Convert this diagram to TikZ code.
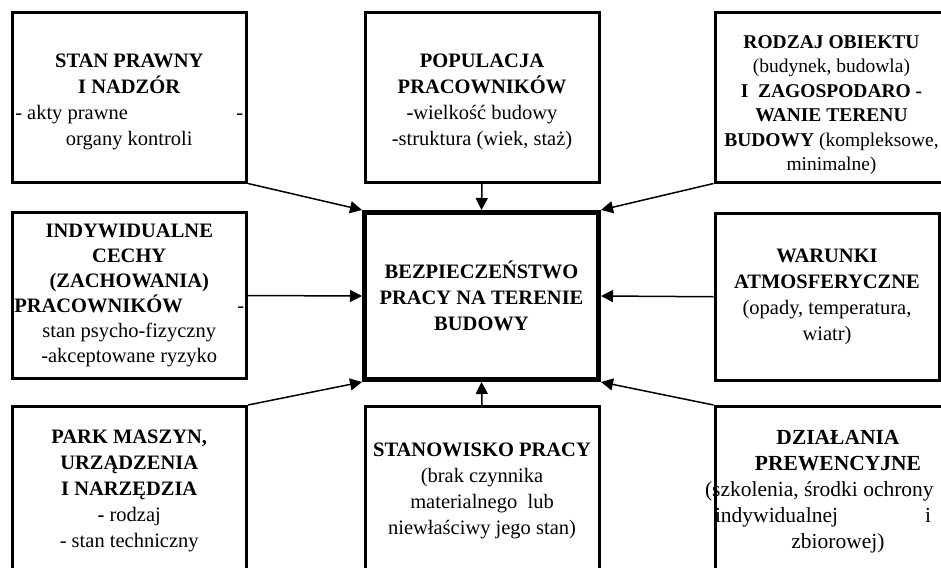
\documentclass[tikz,border=0pt]{standalone}
\usepackage{fontspec}
\setmainfont{Liberation Serif}
\usetikzlibrary{arrows.meta}

\begin{document}
\begin{tikzpicture}[x=1pt,y=-1pt,
  czynnik/.style={draw,line width=3pt,inner sep=0pt,align=center,
    minimum width=234pt,minimum height=169.5pt,
    font=\fontsize{20.5}{26}\selectfont},
  glowny/.style={czynnik,line width=5pt,minimum height=167pt},
  wplyw/.style={line width=1.5pt,-{Triangle[length=12pt,width=12pt]}}]
 \useasboundingbox (0,0) rectangle (941,567);
 \clip (0,0) rectangle (941,567);
 % srodek
 \node[glowny] (bhp) at (481.5,296) {\textbf{BEZPIECZEŃSTWO}\\\textbf{PRACY NA TERENIE}\\\textbf{BUDOWY}};
 % gorny rzad
 \node[czynnik,minimum width=234.5pt] (prawo) at (129.25,97.25)
   {\rule{0pt}{22pt}\textbf{STAN PRAWNY}\\\textbf{I NADZÓR}\\\makebox[228pt]{- akty prawne\hfill -}\\organy kontroli};
 \node[czynnik] (populacja) at (482,97.25)
   {\rule{0pt}{23.6pt}\textbf{POPULACJA}\\\textbf{PRACOWNIKÓW}\\\textbf{-}wielkość budowy\\-struktura (wiek, staż)};
 \node[czynnik,minimum width=233pt,font=\fontsize{19.5}{24.5}\selectfont] (obiekt) at (831.5,97.25)
   {\rule{0pt}{29pt}\textbf{RODZAJ OBIEKTU}\\(budynek, budowla)\\\textbf{I\ \ ZAGOSPODARO -}\\\textbf{WANIE TERENU}\\\textbf{BUDOWY} (kompleksowe,\\minimalne)};
 % srodkowy rzad
 \node[czynnik,minimum width=234.5pt,minimum height=166.5pt,font=\fontsize{20.5}{25}\selectfont] (cechy) at (129.25,295.5)
   {\textbf{INDYWIDUALNE}\\\textbf{CECHY}\\\textbf{(ZACHOWANIA)}\\\makebox[230pt]{\textbf{PRACOWNIKÓW}\hfill-}\\stan psycho-fizyczny\\-akceptowane ryzyko};
 \node[czynnik,minimum width=224pt,minimum height=166.5pt] (warunki) at (827,296.75)
   {\textbf{WARUNKI}\\\textbf{ATMOSFERYCZNE}\\(opady, temperatura,\\wiatr)};
 % dolny rzad
 \node[czynnik,minimum width=234.5pt] (maszyny) at (129.25,491.25)
   {\textbf{PARK MASZYN,}\\\textbf{URZĄDZENIA}\\\textbf{I NARZĘDZIA}\\\textbf{-} rodzaj\\- stan techniczny};
 \node[czynnik] (stanowisko) at (482,491.25)
   {\textbf{STANOWISKO PRACY}\\(brak czynnika\\materialnego\ \ lub\\niewłaściwy jego stan)};
 \node[czynnik,minimum width=246pt,font=\fontsize{21.5}{26}\selectfont] (prewencja) at (838,491.25)
   {\textbf{DZIAŁANIA}\\\textbf{PREWENCYJNE}\\\makebox[246pt][l]{\hspace*{-10pt}(szkolenia, środki ochrony}\\\makebox[246pt]{indywidualnej\hfill i\hspace*{30pt}}\\zbiorowej)};
 % strzalki
 \draw[wplyw] (prawo.south east) -- (bhp.north west);
 \draw[wplyw] (populacja.south) -- (bhp.north);
 \draw[wplyw] (obiekt.south west) -- (bhp.north east);
 \draw[wplyw] (cechy.east) -- (bhp.west);
 \draw[wplyw] (warunki.west) -- (bhp.east);
 \draw[wplyw] (maszyny.north east) -- (bhp.south west);
 \draw[wplyw] (stanowisko.north) -- (bhp.south);
 \draw[wplyw] (prewencja.north west) -- (bhp.south east);
\end{tikzpicture}
\end{document}
